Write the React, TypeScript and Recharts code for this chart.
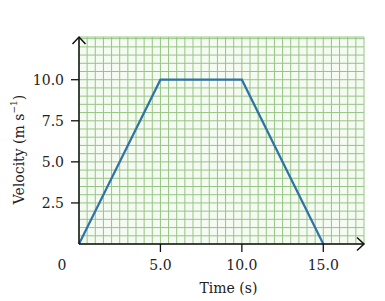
import React from 'react';
import { LineChart, Line, XAxis, YAxis, CartesianGrid, Label } from 'recharts';

// velocity-time data points
const times = [0, 5, 10, 15];
const velocities = [0, 10, 10, 0];

const xLabelTicks = [0, 5, 10, 15];
const yLabelTicks = [2.5, 5, 7.5, 10];

const xMax = 17.5;
const yMax = 12.6;

// fine graph paper lines every 0.5
const gridStep = 0.5;
const xGridTicks = Array.from({ length: xMax / gridStep + 1 }, (_, i) => i * gridStep);
const yGridTicks = [...Array.from({ length: 26 }, (_, i) => i * gridStep), yMax];

const data = times.map((t, i) => ({ t, v: velocities[i] }));

const FONT = 'DejaVu Serif';
const INK = '#222';

const XTick = ({ x, y, payload }: any) => {
  const val = payload.value;
  if (!xLabelTicks.includes(val)) return null;
  const isZero = val === 0;
  return (
    <g>
      {!isZero && <line x1={x} x2={x} y1={y - 16} y2={y - 8} stroke="#111" strokeWidth={1.3} />}
      <text
        x={isZero ? x - 17 : x}
        y={y}
        dy="0.71em"
        textAnchor="middle"
        fill={INK}
        fontSize={14}
        fontFamily={FONT}
      >
        {isZero ? '0' : val.toFixed(1)}
      </text>
    </g>
  );
};

const YTick = ({ x, y, payload }: any) => {
  const val = payload.value;
  if (!yLabelTicks.includes(val)) return null;
  return (
    <g>
      <line x1={x + 7} x2={x + 15} y1={y} y2={y} stroke="#111" strokeWidth={1.3} />
      <text x={x} y={y} dy="0.355em" textAnchor="end" fill={INK} fontSize={14} fontFamily={FONT}>
        {val.toFixed(1)}
      </text>
    </g>
  );
};

const TimeLabel = ({ viewBox }: any) => (
  <text
    x={viewBox.x + viewBox.width / 2 + 7}
    y={viewBox.y + 49}
    textAnchor="middle"
    fill={INK}
    fontSize={14}
    fontFamily={FONT}
  >
    Time (s)
  </text>
);

const VelocityLabel = ({ viewBox }: any) => {
  const cx = 19;
  const cy = viewBox.y + viewBox.height / 2 + 9;
  return (
    <text
      x={cx}
      y={cy}
      transform={`rotate(-90 ${cx} ${cy})`}
      textAnchor="middle"
      dominantBaseline="central"
      fill={INK}
      fontSize={14}
      fontFamily={FONT}
    >
      Velocity (m s
      <tspan dy={-5} fontSize={9}>−1</tspan>
      <tspan dy={5}>)</tspan>
    </text>
  );
};

export default function App() {
  return (
    <div style={{ position: 'absolute', left: 0, top: 0, width: 385, height: 301, background: '#fff' }}>
      <svg width={0} height={0} style={{ position: 'absolute' }}>
        <defs>
          <marker
            id="arrowHead"
            markerUnits="userSpaceOnUse"
            markerWidth={18}
            markerHeight={18}
            viewBox="-9 -9 18 18"
            refX={0}
            refY={0}
            orient="auto-start-reverse"
          >
            <path d="M-7,-6.5 L0,0 L-7,6.5" fill="none" stroke="#111" strokeWidth={1.5} />
          </marker>
        </defs>
      </svg>
      <LineChart width={385} height={301} data={data} margin={{ top: 37, right: 21, bottom: 0, left: 0 }}>
        <CartesianGrid stroke="#95c683" strokeWidth={1} fill="#f5faf2" />
        <XAxis
          dataKey="t"
          type="number"
          domain={[0, xMax]}
          ticks={xGridTicks}
          height={57}
          tickLine={false}
          tickSize={8}
          tickMargin={8}
          interval={0}
          axisLine={{ stroke: '#111', strokeWidth: 1.5, markerEnd: 'url(#arrowHead)' }}
          tick={<XTick />}
        >
          <Label content={<TimeLabel />} />
        </XAxis>
        <YAxis
          type="number"
          domain={[0, yMax]}
          ticks={yGridTicks}
          width={79}
          interval={0}
          tickSize={8}
          tickMargin={7}
          tickLine={false}
          axisLine={{ stroke: '#111', strokeWidth: 1.5, markerStart: 'url(#arrowHead)' }}
          tick={<YTick />}
        >
          <Label content={<VelocityLabel />} />
        </YAxis>
        <Line
          dataKey="v"
          type="linear"
          stroke="#2f72a5"
          strokeWidth={2.2}
          dot={false}
          isAnimationActive={false}
        />
      </LineChart>
    </div>
  );
}
